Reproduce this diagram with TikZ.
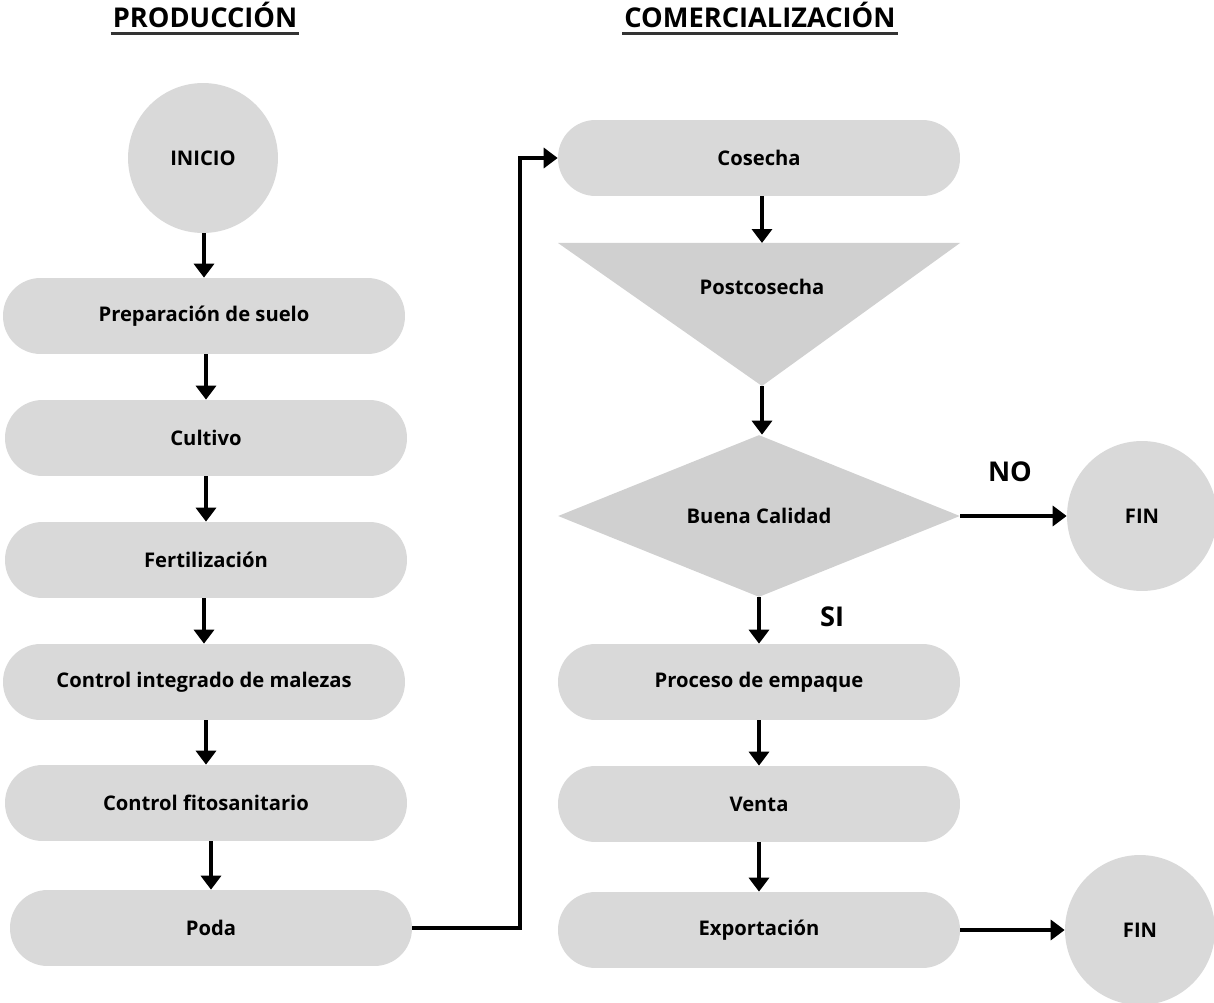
\documentclass[tikz,border=0pt]{standalone}
\usepackage{fontspec}
\setmainfont{Open Sans}
\usetikzlibrary{arrows.meta,shapes.geometric}
\definecolor{boxgray}{HTML}{D9D9D9}
\definecolor{decgray}{HTML}{D0D0D0}
\begin{document}
\begin{tikzpicture}[
    x=0.02cm, y=-0.02cm,
    proc/.style={rectangle, fill=boxgray, rounded corners=0.75cm, minimum width=8.04cm, minimum height=1.52cm, align=center, font=\bfseries\fontsize{11.5}{13}\selectfont},
    term/.style={circle, fill=boxgray, minimum size=3cm, font=\bfseries\fontsize{11.5}{13}\selectfont},
    dec/.style={diamond, fill=decgray, minimum width=8.04cm, minimum height=3.24cm, inner sep=0pt, font=\bfseries\fontsize{11.5}{13}\selectfont},
    head/.style={font=\bfseries\fontsize{15.5}{18}\selectfont, inner sep=1pt},
    lbl/.style={font=\bfseries\fontsize{15.5}{18}\selectfont},
    arrow/.style={-{Triangle[width=0.4cm, length=0.28cm]}, line width=2.3pt}
]
    \useasboundingbox (0,0) rectangle (1214,1003);

    % Headers
    \node[head] (hprod) at (205,15) {PRODUCCIÓN};
    \node[head] (hcom)  at (760,15) {COMERCIALIZACIÓN};
    \draw[line width=1.3pt, black!80] ([yshift=-2pt]hprod.south west) -- ([yshift=-2pt]hprod.south east);
    \draw[line width=1.3pt, black!80] ([yshift=-2pt]hcom.south west) -- ([yshift=-2pt]hcom.south east);

    % Produccion column
    \node[term] (inicio) at (203,158) {INICIO};
    \node[proc] (suelo)  at (204,316) {Preparación de suelo};
    \node[proc] (cultivo) at (206,438) {Cultivo};
    \node[proc] (fert)   at (206,560) {Fertilización};
    \node[proc] (malezas) at (204,682) {Control integrado de malezas};
    \node[proc] (fito)   at (206,803) {Control fitosanitario};
    \node[proc] (poda)   at (211,928) {Poda};

    % Comercializacion column
    \node[proc] (cosecha) at (759,158) {Cosecha};
    \coordinate (tl) at (558,243);
    \coordinate (tr) at (960,243);
    \coordinate (tb) at (762,386);
    \fill[decgray] (tl) -- (tr) -- (tb) -- cycle;
    \node[font=\bfseries\fontsize{11.5}{13}\selectfont] (post) at (762,287) {Postcosecha};
    \node[dec]  (calidad) at (759,516) {Buena Calidad};
    \node[term] (fin1)    at (1142,516) {FIN};
    \node[proc] (empaque) at (759,682) {Proceso de empaque};
    \node[proc] (venta)   at (759,804) {Venta};
    \node[proc] (export)  at (759,930) {Exportación};
    \node[term] (fin2)    at (1140,930) {FIN};

    % Labels
    \node[lbl] (no) at (1010,472) {NO};
    \node[lbl] (si) at (832,617) {SI};

    % Forward path arrows
    \draw[arrow] (suelo.north |- inicio.south) -- (suelo.north);
    \draw[arrow] (cultivo.north |- suelo.south) -- (cultivo.north);
    \draw[arrow] (fert.north |- cultivo.south) -- (fert.north);
    \draw[arrow] (malezas.north |- fert.south) -- (malezas.north);
    \draw[arrow] (fito.north |- malezas.south) -- (fito.north);
    \draw[arrow] (poda.north |- fito.south) -- (poda.north);

    % Poda to Cosecha
    \coordinate (jog) at (520,540);
    \draw[arrow] (poda.east) -| (jog) |- (cosecha.west);

    \draw[arrow] (tb |- cosecha.south) -- (tb |- tl);
    \draw[arrow] (tb) -- (tb |- calidad.north);
    \draw[arrow] (calidad.east) -- (fin1.west);
    \draw[arrow] (calidad.south) -- (empaque.north);
    \draw[arrow] (empaque.south) -- (venta.north);
    \draw[arrow] (venta.south) -- (export.north);
    \draw[arrow] (export.east) -- (fin2.west);

\end{tikzpicture}
\end{document}
